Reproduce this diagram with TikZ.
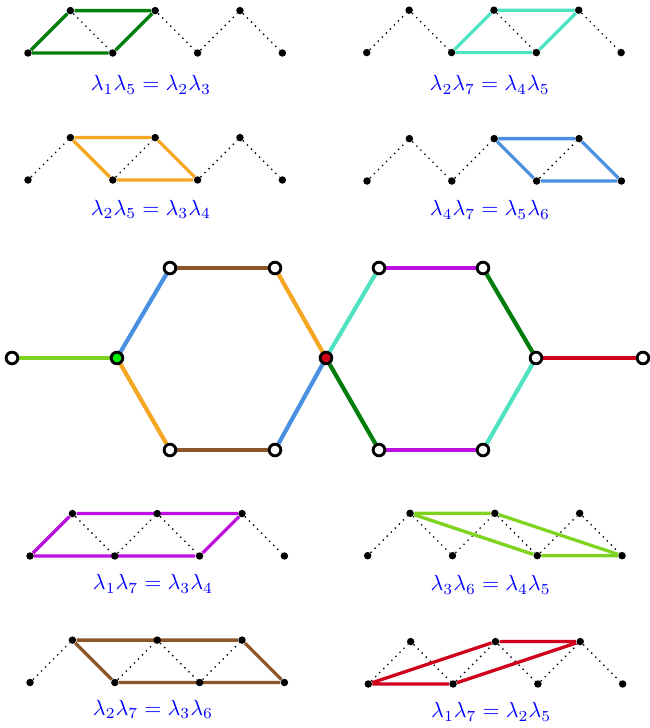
\documentclass[tikz,border=0pt]{standalone}
\usepackage{tikz}
\usetikzlibrary{backgrounds}

\definecolor{relgreen}{RGB}{0,125,10}
\definecolor{relturq}{RGB}{80,227,194}
\definecolor{relorange}{RGB}{245,166,35}
\definecolor{relblue}{RGB}{74,144,226}
\definecolor{relpurple}{RGB}{189,16,224}
\definecolor{rellime}{RGB}{126,211,33}
\definecolor{relbrown}{RGB}{139,87,42}
\definecolor{relred}{RGB}{208,2,27}
\definecolor{junction}{RGB}{0,240,0}

\begin{document}
\begin{tikzpicture}[x=0.678cm, y=0.678cm,
    dot/.style={circle, fill, inner sep=0pt, minimum size=3.4pt},
    link/.style={dotted, line width=0.6pt},
    rel/.style={line width=1.5pt},
    eq/.style={blue, inner sep=1pt},
    vertex/.style={circle, draw, line width=1.3pt, fill=white, inner sep=0pt, minimum size=5.3pt},
    hexedge/.style={line width=1.9pt}]
    \useasboundingbox (0,0) rectangle (15.33,-17.17);

    % lambda_1 lambda_5 = lambda_2 lambda_3
    \begin{scope}[shift={(0.66,-1.25)}]
        \foreach \i/\y in {1/0,2/1,3/0,4/1,5/0,6/1,7/0}
            \node [dot] (\i) at (\i-1,\y) {};
        \begin{scope}[on background layer]
            \draw [link] (2) -- (3) (4) -- (5) -- (6) -- (7);
            \draw [rel, relgreen] (1) -- (2) -- (4) -- (3) -- (1);
        \end{scope}
        \node [eq] (eq1) at (2.9,-0.75) {$\lambda_1\lambda_5 = \lambda_2\lambda_3$};
    \end{scope}

    % lambda_2 lambda_7 = lambda_4 lambda_5
    \begin{scope}[shift={(8.65,-1.24)}]
        \foreach \i/\y in {1/0,2/1,3/0,4/1,5/0,6/1,7/0}
            \node [dot] (\i) at (\i-1,\y) {};
        \begin{scope}[on background layer]
            \draw [link] (1) -- (2) -- (3) (4) -- (5) (6) -- (7);
            \draw [rel, relturq] (3) -- (4) -- (6) -- (5) -- (3);
        \end{scope}
        \node [eq] (eq2) at (2.9,-0.76) {$\lambda_2\lambda_7 = \lambda_4\lambda_5$};
    \end{scope}

    % lambda_2 lambda_5 = lambda_3 lambda_4
    \begin{scope}[shift={(0.66,-4.245)}]
        \foreach \i/\y in {1/0,2/1,3/0,4/1,5/0,6/1,7/0}
            \node [dot] (\i) at (\i-1,\y) {};
        \begin{scope}[on background layer]
            \draw [link] (1) -- (2) (3) -- (4) (5) -- (6) -- (7);
            \draw [rel, relorange] (2) -- (4) -- (5) -- (3) -- (2);
        \end{scope}
        \node [eq] (eq3) at (2.9,-0.69) {$\lambda_2\lambda_5 = \lambda_3\lambda_4$};
    \end{scope}

    % lambda_4 lambda_7 = lambda_5 lambda_6
    \begin{scope}[shift={(8.656,-4.269)}]
        \foreach \i/\y in {1/0,2/1,3/0,4/1,5/0,6/1,7/0}
            \node [dot] (\i) at (\i-1,\y) {};
        \begin{scope}[on background layer]
            \draw [link] (1) -- (2) -- (3) -- (4) (5) -- (6);
            \draw [rel, relblue] (4) -- (6) -- (7) -- (5) -- (4);
        \end{scope}
        \node [eq] (eq4) at (2.9,-0.68) {$\lambda_4\lambda_7 = \lambda_5\lambda_6$};
    \end{scope}

    % two hexagons
    \node [vertex] (p1) at (0.283,-8.443) {};
    \node [vertex, fill=junction] (g) at (2.759,-8.443) {};
    \node [vertex] (u1) at (4.009,-6.321) {};
    \node [vertex] (u2) at (6.486,-6.321) {};
    \node [vertex] (d1) at (4.009,-10.613) {};
    \node [vertex] (d2) at (6.486,-10.613) {};
    \node [vertex, fill=relred] (c) at (7.689,-8.443) {};
    \node [vertex] (u3) at (8.939,-6.321) {};
    \node [vertex] (u4) at (11.392,-6.321) {};
    \node [vertex] (d3) at (8.939,-10.613) {};
    \node [vertex] (d4) at (11.392,-10.613) {};
    \node [vertex] (w) at (12.642,-8.443) {};
    \node [vertex] (p2) at (15.165,-8.443) {};

    \begin{scope}[on background layer, every path/.style={hexedge}]
        \draw [rellime] (p1) -- (g);
        \draw [relblue] (g) -- (u1);
        \draw [relorange] (g) -- (d1);
        \draw [relbrown] (u1) -- (u2);
        \draw [relbrown] (d1) -- (d2);
        \draw [relorange] (u2) -- (c);
        \draw [relblue] (d2) -- (c);
        \draw [relturq] (c) -- (u3);
        \draw [relgreen] (c) -- (d3);
        \draw [relpurple] (u3) -- (u4);
        \draw [relpurple] (d3) -- (d4);
        \draw [relgreen] (u4) -- (w);
        \draw [relturq] (d4) -- (w);
        \draw [relred] (w) -- (p2);
    \end{scope}

    % lambda_1 lambda_7 = lambda_3 lambda_4
    \begin{scope}[shift={(0.708,-13.113)}]
        \foreach \i/\y in {1/0,2/1,3/0,4/1,5/0,6/1,7/0}
            \node [dot] (\i) at (\i-1,\y) {};
        \begin{scope}[on background layer]
            \draw [link] (2) -- (3) -- (4) -- (5) (6) -- (7);
            \draw [rel, relpurple] (1) -- (2) -- (6) -- (5) -- (1);
        \end{scope}
        \node [eq] (eq5) at (2.9,-0.66) {$\lambda_1\lambda_7 = \lambda_3\lambda_4$};
    \end{scope}

    % lambda_3 lambda_6 = lambda_4 lambda_5
    \begin{scope}[shift={(8.672,-13.106)}]
        \foreach \i/\y in {1/0,2/1,3/0,4/1,5/0,6/1,7/0}
            \node [dot] (\i) at (\i-1,\y) {};
        \begin{scope}[on background layer]
            \draw [link] (1) -- (2) -- (3) -- (4) -- (5) -- (6) -- (7);
            \draw [rel, rellime] (2) -- (4) -- (7) -- (5) -- (2);
        \end{scope}
        \node [eq] (eq6) at (2.9,-0.69) {$\lambda_3\lambda_6 = \lambda_4\lambda_5$};
    \end{scope}

    % lambda_2 lambda_7 = lambda_3 lambda_6
    \begin{scope}[shift={(0.708,-16.097)}]
        \foreach \i/\y in {1/0,2/1,3/0,4/1,5/0,6/1,7/0}
            \node [dot] (\i) at (\i-1,\y) {};
        \begin{scope}[on background layer]
            \draw [link] (1) -- (2) (3) -- (4) -- (5) -- (6);
            \draw [rel, relbrown] (2) -- (6) -- (7) -- (3) -- (2);
        \end{scope}
        \node [eq] (eq7) at (2.9,-0.63) {$\lambda_2\lambda_7 = \lambda_3\lambda_6$};
    \end{scope}

    % lambda_1 lambda_7 = lambda_2 lambda_5
    \begin{scope}[shift={(8.686,-16.132)}]
        \foreach \i/\y in {1/0,2/1,3/0,4/1,5/0,6/1,7/0}
            \node [dot] (\i) at (\i-1,\y) {};
        \begin{scope}[on background layer]
            \draw [link] (1) -- (2) -- (3) -- (4) -- (5) -- (6) -- (7);
            \draw [rel, relred] (1) -- (3) -- (6) -- (4) -- (1);
        \end{scope}
        \node [eq] (eq8) at (2.9,-0.66) {$\lambda_1\lambda_7 = \lambda_2\lambda_5$};
    \end{scope}
\end{tikzpicture}
\end{document}
